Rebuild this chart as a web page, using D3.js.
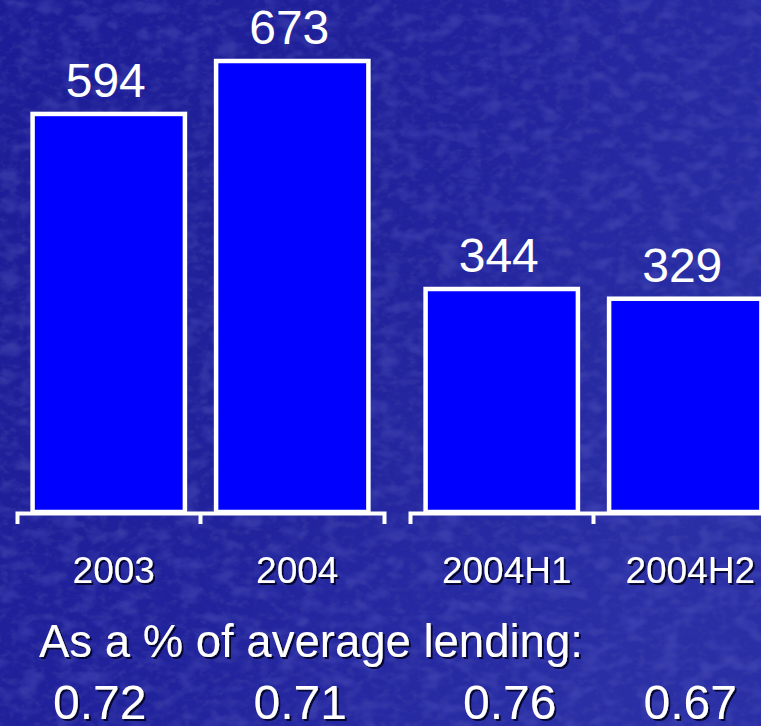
<!DOCTYPE html>
<html>
<head>
<meta charset="utf-8">
<script src="https://cdn.jsdelivr.net/npm/d3@7"></script>
<style>
  html, body { margin: 0; padding: 0; background: #20209a; }
  svg { display: block; }
  text { font-family: "Liberation Sans", Arial, Helvetica, sans-serif; fill: #fff; }
</style>
</head>
<body>
<svg id="chart" width="761" height="726"></svg>
<script>
// Loan-loss charge (annual and half-yearly) with ratio to average lending
const annualCategories = ["2003", "2004"];
const annualValues = [594, 673];
const halfCategories = ["2004H1", "2004H2"];
const halfValues = [344, 329];
const ratioCaption = "As a % of average lending:";
const ratioLabels = ["0.72", "0.71", "0.76", "0.67"];

const W = 761, H = 726;
const baseY = 512;
const svg = d3.select("#chart");

// background: deep blue with a mottled texture
const defs = svg.append("defs");
const grad = defs.append("linearGradient").attr("id", "bgGrad")
  .attr("x1", 0).attr("y1", 0).attr("x2", 1).attr("y2", 0.5);
grad.append("stop").attr("offset", "0%").attr("stop-color", "#1c1c96");
grad.append("stop").attr("offset", "55%").attr("stop-color", "#21239c");
grad.append("stop").attr("offset", "100%").attr("stop-color", "#2a2fa6");

// dark speckles
const darkTex = defs.append("filter").attr("id", "darkTex")
  .attr("x", 0).attr("y", 0).attr("width", "100%").attr("height", "100%");
darkTex.append("feTurbulence").attr("type", "fractalNoise")
  .attr("baseFrequency", "0.11 0.14").attr("numOctaves", 3).attr("seed", 11).attr("result", "noise");
darkTex.append("feColorMatrix").attr("in", "noise").attr("type", "matrix")
  .attr("values", "0 0 0 0 0.05  0 0 0 0 0.05  0 0 0 0 0.38  -3 0 0 0 1.55");

// lighter patches
const lightTex = defs.append("filter").attr("id", "lightTex")
  .attr("x", 0).attr("y", 0).attr("width", "100%").attr("height", "100%");
lightTex.append("feTurbulence").attr("type", "fractalNoise")
  .attr("baseFrequency", "0.05 0.07").attr("numOctaves", 2).attr("seed", 3).attr("result", "noise");
lightTex.append("feColorMatrix").attr("in", "noise").attr("type", "matrix")
  .attr("values", "0 0 0 0 0.20  0 0 0 0 0.22  0 0 0 0 0.70  0 -3 0 0 1.6");

const shadow = defs.append("filter").attr("id", "shadow")
  .attr("x", "-10%").attr("y", "-10%").attr("width", "130%").attr("height", "140%");
shadow.append("feDropShadow").attr("dx", 2).attr("dy", 2).attr("stdDeviation", 0.6)
  .attr("flood-color", "#000020").attr("flood-opacity", 0.85);

svg.append("rect").attr("width", W).attr("height", H).attr("fill", "url(#bgGrad)");
svg.append("rect").attr("width", W).attr("height", H).attr("filter", "url(#lightTex)").attr("opacity", 0.22);
svg.append("rect").attr("width", W).attr("height", H).attr("filter", "url(#darkTex)").attr("opacity", 0.45);

// two panels, each with its own band and value scale
const panels = [
  { cats: annualCategories, vals: annualValues, range: [17, 384],
    y: d3.scaleLinear().domain([0, 673]).range([baseY, 61]) },
  { cats: halfCategories, vals: halfValues, range: [410, 777],
    y: d3.scaleLinear().domain([0, 344]).range([baseY, 289]) }
];

const centers = [];
panels.forEach(p => {
  const x = d3.scaleBand().domain(p.cats).range(p.range).padding(0);
  const barW = x.bandwidth() * 0.83;
  const g = svg.append("g");

  g.selectAll("rect.bar").data(p.vals).join("rect")
    .attr("class", "bar")
    .attr("x", (d, i) => x(p.cats[i]) + (x.bandwidth() - barW) / 2)
    .attr("width", barW)
    .attr("y", d => p.y(d))
    .attr("height", d => baseY - p.y(d))
    .attr("fill", "#0000ff")
    .attr("stroke", "#ffffff")
    .attr("stroke-width", 4.5);

  g.selectAll("text.value").data(p.vals).join("text")
    .attr("class", "value")
    .attr("x", (d, i) => x(p.cats[i]) + x.bandwidth() / 2 - 3)
    .attr("y", d => p.y(d) - 17)
    .attr("text-anchor", "middle")
    .attr("font-size", 48)
    .text(d => d);

  // baseline with outer ticks from the axis generator
  const axis = svg.append("g").attr("transform", `translate(0,${baseY + 1})`)
    .call(d3.axisBottom(x).tickSizeInner(0).tickSizeOuter(11).tickFormat(""));
  axis.select(".domain").attr("stroke", "#fff").attr("stroke-width", 4).attr("fill", "none");
  axis.selectAll(".tick").remove();
  // separator ticks between bands
  axis.selectAll("line.sep").data(p.cats.slice(1)).join("line")
    .attr("class", "sep")
    .attr("x1", d => x(d)).attr("x2", d => x(d))
    .attr("y1", 0).attr("y2", 11)
    .attr("stroke", "#fff").attr("stroke-width", 4);

  svg.append("g").selectAll("text.cat").data(p.cats).join("text")
    .attr("class", "cat")
    .attr("x", d => x(d) + x.bandwidth() / 2 + 5)
    .attr("y", 583)
    .attr("text-anchor", "middle")
    .attr("font-size", 37)
    .attr("filter", "url(#shadow)")
    .text(d => d);

  p.cats.forEach(c => centers.push(x(c) + x.bandwidth() / 2));
});

svg.append("text")
  .attr("x", 39).attr("y", 657)
  .attr("font-size", 45.5)
  .attr("filter", "url(#shadow)")
  .text(ratioCaption);

// ratio row sits slightly off the bar centres
const ratioNudge = [-9, 8, 8, 5];
svg.append("g").selectAll("text.ratio").data(ratioLabels).join("text")
  .attr("class", "ratio")
  .attr("x", (d, i) => centers[i] + ratioNudge[i])
  .attr("y", 719)
  .attr("text-anchor", "middle")
  .attr("font-size", 48)
  .attr("filter", "url(#shadow)")
  .text(d => d);
</script>
</body>
</html>
